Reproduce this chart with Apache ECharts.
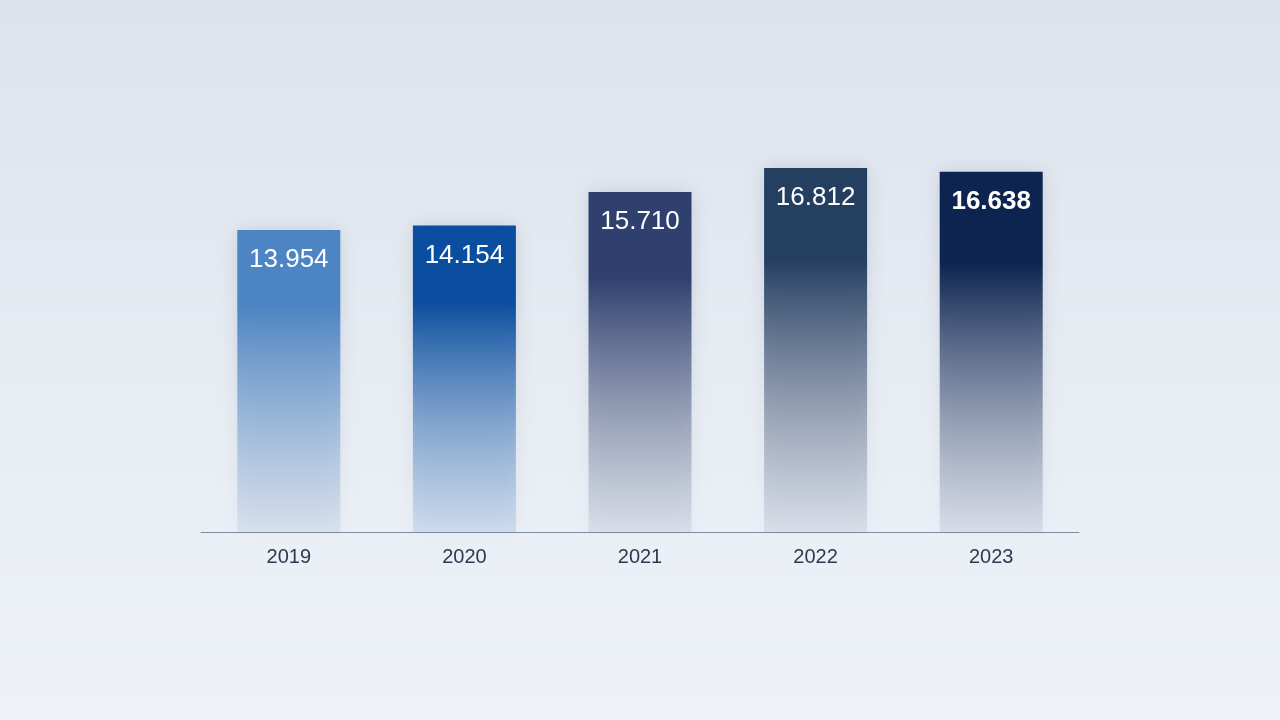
<!DOCTYPE html>
<html><head><meta charset="utf-8">
<script src="https://cdn.jsdelivr.net/npm/echarts@6/dist/echarts.min.js"></script>
<style>html,body{margin:0;padding:0;}#c{width:1280px;height:720px;}</style>
</head><body><div id="c"></div>
<script>
const categories = ['2019','2020','2021','2022','2023'];
const values = [13.954, 14.154, 15.710, 16.812, 16.638];
const labels = ['13.954','14.154','15.710','16.812','16.638'];
const topColors = ['#4d84c3','#0b4e9f','#2f406f','#253f61','#0c244f'];
const bottomColors = ['rgba(150,180,215,0.2)','rgba(130,170,215,0.25)','rgba(130,140,165,0.15)','rgba(130,140,165,0.15)','rgba(120,130,160,0.15)'];

const chart = echarts.init(document.getElementById('c'));
chart.setOption({
  backgroundColor: {type:'linear',x:0,y:0,x2:0,y2:1,colorStops:[{offset:0,color:'#dde3ec'},{offset:0.5,color:'#e7ecf3'},{offset:1,color:'#eef2f8'}]},
  grid:{left:201,right:201,top:99,bottom:188,containLabel:false},
  xAxis:{type:'category',data:categories,
    axisLine:{lineStyle:{color:'#7d8ca3',width:1}},axisTick:{show:false},
    axisLabel:{color:'#2c3b50',fontSize:20,fontFamily:'Liberation Sans, Arial',margin:15}},
  yAxis:{type:'value',min:0,max:20,show:false,splitLine:{show:false}},
  series:[{type:'bar',barWidth:103,
    data: values.map((v,i)=>({value:v,
      itemStyle:{color:{type:'linear',x:0,y:0,x2:0,y2:1,colorStops:[
        {offset:0,color:topColors[i]},{offset:0.25,color:topColors[i]},{offset:1,color:bottomColors[i]}]},
        shadowColor:'rgba(60,80,110,0.18)',shadowBlur:18},
      label:{show:true,position:'insideTop',distance:17,formatter:labels[i],color:'#ffffff',
        fontSize:26,fontFamily:'Liberation Sans, Arial',fontWeight:i===4?'bold':'normal'}
    }))
  }]
});
</script></body></html>
